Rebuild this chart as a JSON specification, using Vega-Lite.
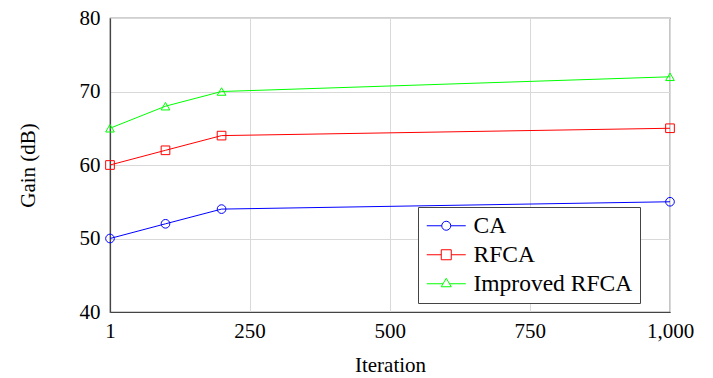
{
  "$schema": "https://vega.github.io/schema/vega-lite/v6.json",
  "width": 560,
  "height": 294,
  "autosize": {"type": "none"},
  "padding": {"left": 110, "top": 18, "right": 43, "bottom": 66},
  "background": "white",
  "config": {
    "font": "Liberation Serif",
    "view": {"stroke": "#444", "strokeWidth": 1.2},
    "axis": {
      "labelFont": "Liberation Serif",
      "labelFontSize": 21,
      "labelColor": "black",
      "titleFont": "Liberation Serif",
      "titleFontSize": 21,
      "titleFontWeight": "normal",
      "titleColor": "black",
      "domainColor": "#444",
      "domainWidth": 1.2,
      "gridColor": "#d9d9d9",
      "gridWidth": 1,
      "ticks": false,
      "labelFlush": false,
      "labelOverlap": false
    },
    "legend": {
      "labelFont": "Liberation Serif",
      "labelFontSize": 23.5,
      "labelColor": "black"
    }
  },
  "data": {
    "values": [
      {"iter": 1, "gain": 50, "series": "CA"},
      {"iter": 100, "gain": 52, "series": "CA"},
      {"iter": 200, "gain": 54, "series": "CA"},
      {"iter": 1000, "gain": 55, "series": "CA"},
      {"iter": 1, "gain": 60, "series": "RFCA"},
      {"iter": 100, "gain": 62, "series": "RFCA"},
      {"iter": 200, "gain": 64, "series": "RFCA"},
      {"iter": 1000, "gain": 65, "series": "RFCA"},
      {"iter": 1, "gain": 65, "series": "Improved RFCA"},
      {"iter": 100, "gain": 68, "series": "Improved RFCA"},
      {"iter": 200, "gain": 70, "series": "Improved RFCA"},
      {"iter": 1000, "gain": 72, "series": "Improved RFCA"}
    ]
  },
  "encoding": {
    "x": {
      "field": "iter", "type": "quantitative",
      "scale": {"domain": [1, 1000], "nice": false, "zero": false},
      "axis": {"values": [1, 250, 500, 750, 1000], "format": ",d", "title": "Iteration", "labelPadding": 8, "titlePadding": 13}
    },
    "y": {
      "field": "gain", "type": "quantitative",
      "scale": {"domain": [40, 80], "nice": false, "zero": false},
      "axis": {"values": [40, 50, 60, 70, 80], "title": "Gain (dB)", "labelPadding": 10, "titlePadding": 41}
    }
  },
  "layer": [
    {
      "mark": {"type": "line", "strokeWidth": 1},
      "encoding": {
        "color": {
          "field": "series", "type": "nominal",
          "scale": {"domain": ["CA", "RFCA", "Improved RFCA"], "range": ["#0000ff", "#ff0000", "#00ff00"]},
          "legend": null
        }
      }
    },
    {
      "mark": {"type": "point", "filled": false, "strokeWidth": 1, "size": 75, "opacity": 1},
      "encoding": {
        "color": {
          "field": "series", "type": "nominal",
          "scale": {"domain": ["CA", "RFCA", "Improved RFCA"], "range": ["#0000ff", "#ff0000", "#00ff00"]},
          "legend": null
        },
        "shape": {
          "field": "series", "type": "nominal",
          "scale": {"domain": ["CA", "RFCA", "Improved RFCA"], "range": ["circle", "square", "triangle-up"]},
          "legend": null
        }
      }
    },
    {
      "transform": [{"filter": "false"}],
      "mark": {"type": "point", "filled": false, "strokeWidth": 1, "size": 400, "opacity": 1},
      "encoding": {
        "stroke": {
          "field": "series", "type": "nominal",
          "scale": {"domain": ["CA", "RFCA", "Improved RFCA"], "range": ["#0000ff", "#ff0000", "#00ff00"]},
          "legend": {
            "title": null,
            "orient": "none",
            "legendX": 308,
            "legendY": 189,
            "symbolSize": 400,
            "symbolStrokeWidth": 1,
            "symbolFillColor": "transparent",
            "symbolOpacity": 1,
            "labelOffset": 25,
            "rowPadding": 4,
            "padding": 7,
            "strokeColor": "#444",
            "fillColor": "white"
          }
        },
        "shape": {
          "field": "series", "type": "nominal",
          "scale": {
            "domain": ["CA", "RFCA", "Improved RFCA"],
            "range": [
              "M-1,0H0.5M1.4,0H2.9M0.5,0A0.45,0.45 0 1,1 1.4,0A0.45,0.45 0 1,1 0.5,0Z",
              "M-1,0H0.45M1.45,0H2.9M0.45,-0.5H1.45V0.5H0.45Z",
              "M-1,0H0.63M1.27,0H2.9M0.95,-0.55L1.45,0.3L0.45,0.3Z"
            ]
          },
          "legend": {
            "title": null,
            "orient": "none",
            "legendX": 308,
            "legendY": 189,
            "symbolSize": 400,
            "symbolStrokeWidth": 1,
            "symbolFillColor": "transparent",
            "symbolOpacity": 1,
            "labelOffset": 25,
            "rowPadding": 4,
            "padding": 7,
            "strokeColor": "#444",
            "fillColor": "white"
          }
        }
      }
    }
  ],
  "resolve": {"scale": {"shape": "independent", "stroke": "independent"}, "legend": {"shape": "independent", "stroke": "independent"}}
}
